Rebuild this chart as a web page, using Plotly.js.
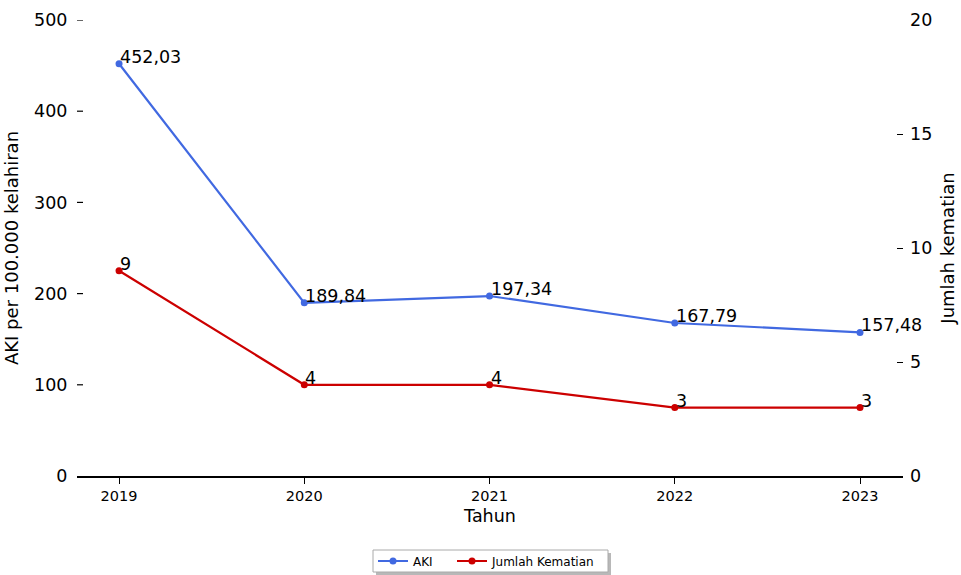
<!DOCTYPE html>
<html><head><meta charset="utf-8">
<script src="https://cdn.plot.ly/plotly-3.0.1.min.js"></script>
<style>body{margin:0;padding:0;background:#fff}#c{width:961px;height:575px}</style>
</head><body><div id="c"></div>
<script>
const years = [2019, 2020, 2021, 2022, 2023];
const aki = [452.03, 189.84, 197.34, 167.79, 157.48];
const kematian = [9, 4, 4, 3, 3];
const akiLabels = ["452,03", "189,84", "197,34", "167,79", "157,48"];
const kematianLabels = ["9", "4", "4", "3", "3"];
const leftTicks = [0, 100, 200, 300, 400, 500];
const rightTicks = [0, 5, 10, 15, 20];

const F = "DejaVu Sans, sans-serif";
const traces = [
  // carrier for the left tick-label axis (invisible)
  {x: years, y: aki, yaxis: "y3", mode: "lines", opacity: 0, line: {width: 0}, showlegend: false, hoverinfo: "skip"},
  {x: years, y: aki, name: "AKI", mode: "lines+markers", legend: "legend",
   line: {color: "#4169E1", width: 2.2}, marker: {color: "#4169E1", size: 7}, yaxis: "y", cliponaxis: false},
  {x: years, y: kematian, name: "Jumlah Kematian", mode: "lines+markers", legend: "legend2",
   line: {color: "#CC0000", width: 2.2}, marker: {color: "#CC0000", size: 7}, yaxis: "y2", cliponaxis: false}
];
const annotations = [];
years.forEach((yr, i) => {
  annotations.push({x: yr, y: aki[i], xref: "x", yref: "y", text: akiLabels[i], showarrow: false,
    xanchor: "left", yanchor: "middle", yshift: 7, xshift: -1, font: {family: F, size: 17.5, color: "#000"}});
  annotations.push({x: yr, y: kematian[i], xref: "x", yref: "y2", text: kematianLabels[i], showarrow: false,
    xanchor: "left", yanchor: "middle", yshift: 7, xshift: -1, font: {family: F, size: 17.5, color: "#000"}});
});
// legend frame (box + shadow) in paper coords; plot area: 826 x 456 px, origin (77, 476)
const px = v => (v - 77) / 826, py = v => (476 - v) / 456;
const shapes = [
  {type: "rect", xref: "paper", yref: "paper", x0: px(376), x1: px(611), y0: py(575), y1: py(553),
   fillcolor: "#b8b8b8", line: {width: 0}, layer: "below"},
  {type: "rect", xref: "paper", yref: "paper", x0: px(373), x1: px(608), y0: py(572), y1: py(550),
   fillcolor: "#fff", line: {color: "#aaa", width: 1}, layer: "below"}
];
// left-axis tick marks (inward, 6 px) at the left tick values
leftTicks.filter(v => v > 0).forEach(v => {
  shapes.push({type: "line", xref: "paper", yref: "y", x0: 0, x1: 6/826, y0: v, y1: v,
               line: {color: "#000", width: 1.2}});
});
const legBase = {orientation: "h", xref: "container", xanchor: "left", yref: "container", yanchor: "middle",
  y: 14/575, borderwidth: 0, bgcolor: "rgba(0,0,0,0)", font: {family: F, size: 12}};
const layout = {
  width: 961, height: 575,
  margin: {l: 77, r: 58, t: 20, b: 99},
  paper_bgcolor: "#fff", plot_bgcolor: "rgba(0,0,0,0)",
  font: {family: F, color: "#000"},
  showlegend: true,
  annotations: annotations,
  shapes: shapes,
  legend: Object.assign({}, legBase, {x: 373/961}),
  legend2: Object.assign({}, legBase, {x: 452/961}),
  xaxis: {range: [2018.773, 2023.232], tickvals: years, ticktext: years.map(String), automargin: false,
          showgrid: false, zeroline: false, showline: true, linecolor: "#000", linewidth: 2,
          ticks: "outside", ticklen: 6, tickwidth: 1.2, tickcolor: "#000",
          tickfont: {family: F, size: 14.5}, title: {text: "Tahun", font: {family: F, size: 17.5}, standoff: 6}},
  yaxis: {range: [0, 500], tickvals: leftTicks, showgrid: false, zeroline: false, automargin: false,
          showline: false, ticks: "", showticklabels: false},
  yaxis3: {range: [0, 500], tickvals: leftTicks, overlaying: "y", side: "left", showgrid: false, zeroline: false,
          automargin: false, showline: false, ticks: "outside", ticklen: 5, tickcolor: "rgba(0,0,0,0)",
          tickfont: {family: F, size: 17.5}, title: {text: "AKI per 100.000 kelahiran", font: {family: F, size: 18}, standoff: 10}},
  yaxis2: {range: [0, 20], tickvals: rightTicks, overlaying: "y", side: "right", showgrid: false, automargin: false,
           zeroline: false, showline: false, ticks: "inside", ticklen: 6, tickwidth: 1.2, tickcolor: "#000", ticklabelstandoff: 6,
           tickfont: {family: F, size: 17.5}, title: {text: "Jumlah kematian", font: {family: F, size: 18}, standoff: 10}}
};
Plotly.newPlot("c", traces, layout, {displayModeBar: false});
</script></body></html>
